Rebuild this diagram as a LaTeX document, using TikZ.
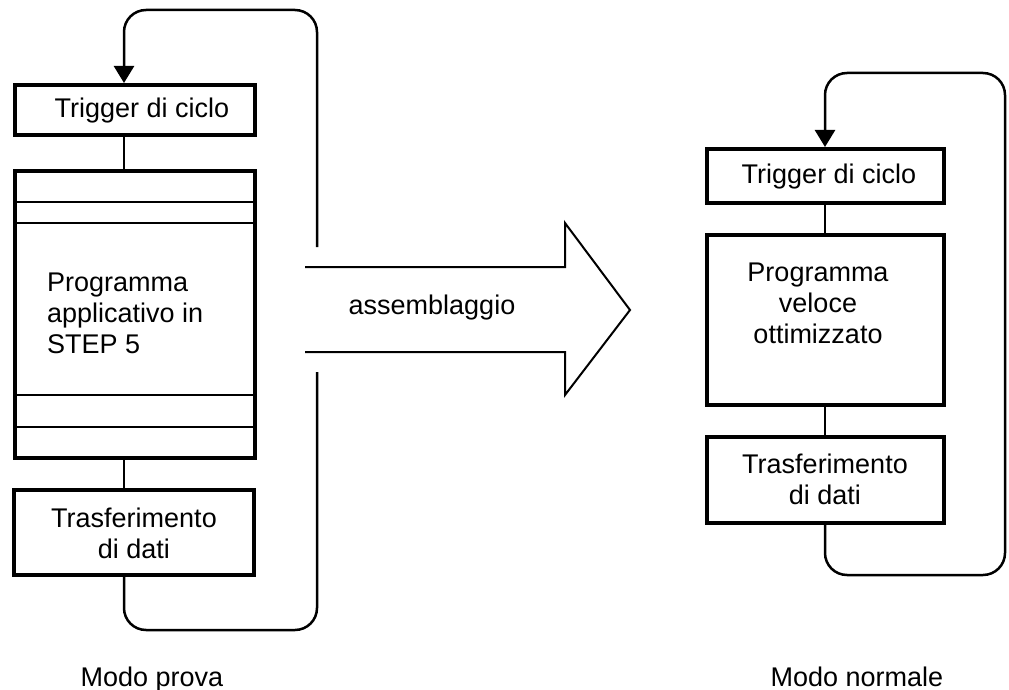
\documentclass[tikz,border=0pt]{standalone}
\usepackage{fontspec}
\setmainfont{Liberation Sans}
\usetikzlibrary{arrows.meta}
\begin{document}
\begin{tikzpicture}[x=1pt,y=-1pt,
  box/.style={draw, line width=4pt, inner sep=0pt, minimum width=240pt},
  txt/.style={inner sep=0pt, align=center, font=\fontsize{27}{31}\selectfont},
  link/.style={line width=2pt},
  loopline/.style={line width=2.5pt, rounded corners=22pt},
  band/.style={line width=1.5pt},
  bigarrow/.style={line width=2pt, line join=miter},
  tip/.style={-{Triangle[length=17pt,width=20pt]}}]
\useasboundingbox (0,0) rectangle (1009,690);

% ---------- test mode (left) ----------
\node[box, minimum height=50pt]  (trigL)  at (135,110)   {};
\node[box, minimum height=287pt] (progL)  at (135,314.5) {};
\node[box, minimum height=85pt]  (transL) at (134,532.5) {};

\node[txt] (trigLt)  at (142,111) {Trigger di ciclo};
\node[txt, align=left, anchor=west] (progLt) at (47,313) {Programma\\applicativo in\\STEP 5};
\node[txt] (transLt) at (134,533) {Trasferimento\\di dati};

% segment bands of the STEP 5 program
\foreach \yy in {202,223,395,427}
  \draw[band] (progL.west |- 0,\yy) -- (progL.east |- 0,\yy);

\coordinate (lx) at (124,0);
\coordinate (lr) at (317,0);
\draw[link] (trigL.south -| lx) -- (progL.north -| lx);
\draw[link] (progL.south -| lx) -- (transL.north -| lx);

% cycle loop
\draw[loopline] (transL.south -| lx) -- (lx |- 0,630) -- (lr |- 0,630) -- (lr |- 0,372);
\draw[loopline, tip] (lr |- 0,247) -- (lr |- 0,10) -- (lx |- 0,10) -- (trigL.north -| lx);

% ---------- assembly arrow ----------
\coordinate (a1) at (305,267);
\coordinate (a2) at (565,267);
\coordinate (a3) at (565,223);
\coordinate (a4) at (630,310);
\coordinate (a5) at (565,395);
\coordinate (a6) at (565,352);
\coordinate (a7) at (305,352);
\draw[bigarrow] (a1) -- (a2) -- (a3) -- (a4) -- (a5) -- (a6) -- (a7);
\node[txt] (asm) at (432,308) {assemblaggio};

% ---------- normal mode (right) ----------
\node[box, minimum width=237pt, minimum height=54pt] (trigR)  at (825.5,176) {};
\node[box, minimum width=237pt, minimum height=170pt] (progR) at (825.5,320) {};
\node[box, minimum width=237pt, minimum height=86pt] (transR) at (825.5,480) {};

\node[txt] (trigRt)  at (829,177) {Trigger di ciclo};
\node[txt] (progRt)  at (818,303) {Programma\\veloce\\ottimizzato};
\node[txt] (transRt) at (825,479) {Trasferimento\\di dati};

\coordinate (rx) at (825,0);
\coordinate (rr) at (1005,0);
\draw[link] (trigR.south -| rx) -- (progR.north -| rx);
\draw[link] (progR.south -| rx) -- (transR.north -| rx);
\draw[loopline, tip] (transR.south -| rx) -- (rx |- 0,575) -- (rr |- 0,575)
  -- (rr |- 0,73) -- (rx |- 0,73) -- (trigR.north -| rx);

% ---------- captions ----------
\node[txt, anchor=base] (capL) at (152,686) {Modo prova};
\node[txt, anchor=base] (capR) at (857,686) {Modo normale};
\end{tikzpicture}
\end{document}
